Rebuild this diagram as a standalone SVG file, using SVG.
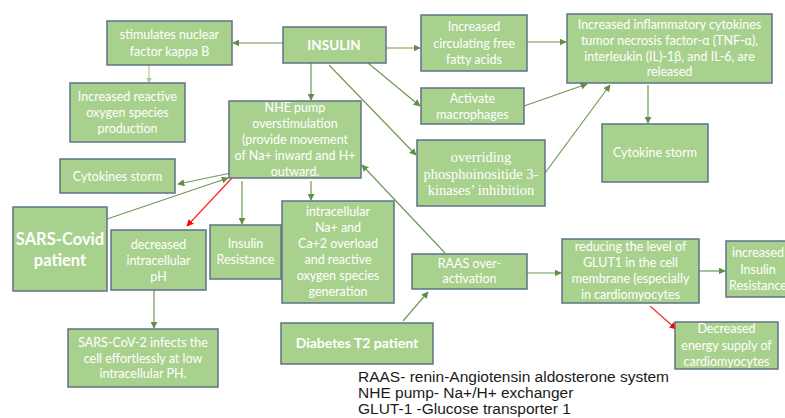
<svg xmlns="http://www.w3.org/2000/svg" width="785" height="418" viewBox="0 0 785 418">
  <defs>
    <marker id="ah" viewBox="0 0 10 10" refX="9" refY="5" markerWidth="7" markerHeight="7" markerUnits="userSpaceOnUse" orient="auto">
      <path d="M0,0 L10,5 L0,10 z" fill="#5f8f45"/>
    </marker>
    <marker id="ahLight" viewBox="0 0 10 10" refX="9" refY="5" markerWidth="6" markerHeight="6" markerUnits="userSpaceOnUse" orient="auto">
      <path d="M0,0 L10,5 L0,10 z" fill="#a9d18e"/>
    </marker>
    <marker id="ahRed" viewBox="0 0 10 10" refX="9" refY="5" markerWidth="7" markerHeight="7" markerUnits="userSpaceOnUse" orient="auto">
      <path d="M0,0 L10,5 L0,10 z" fill="#ff0000"/>
    </marker>
  </defs>
  <style>
    .box { fill: #a9d18e; stroke: #5f7287; stroke-width: 1.5; }
    .t { font-family: Lato, "Open Sans", "Liberation Sans", sans-serif; font-size: 12.5px; fill: #ffffff; text-anchor: middle; }
    .ts { font-family: "Liberation Serif", "DejaVu Serif", serif; font-size: 14.5px; fill: #ffffff; text-anchor: middle; }
    .tb { font-family: Lato, "Open Sans", "Liberation Sans", sans-serif; font-weight: bold; fill: #ffffff; text-anchor: middle; }
    .c { stroke: #6f9a55; stroke-width: 1.2; fill: none; marker-end: url(#ah); }
    .cl { stroke: #a9d18e; stroke-width: 1.2; fill: none; marker-end: url(#ahLight); }
    .cr { stroke: #ff2a2a; stroke-width: 1.2; fill: none; marker-end: url(#ahRed); }
    .legend { font-family: "Liberation Sans", Arial, sans-serif; font-size: 15.5px; fill: #1a1a1a; }
  </style>

  <g id="connectors">
    <line class="c" x1="283" y1="43" x2="233" y2="43"/>
    <line class="cl" x1="149" y1="65" x2="149" y2="83"/>
    <line class="c" x1="311" y1="63" x2="311" y2="100"/>
    <line class="c" x1="386" y1="48" x2="420" y2="48"/>
    <line class="c" x1="368" y1="63" x2="420" y2="106"/>
    <line class="c" x1="329" y1="65" x2="416" y2="155"/>
    <line class="c" x1="527" y1="42" x2="566" y2="42"/>
    <line class="c" x1="524" y1="106" x2="587" y2="84"/>
    <line class="c" x1="545" y1="173" x2="610" y2="85"/>
    <line class="c" x1="648" y1="85" x2="648" y2="123"/>
    <line class="c" x1="231" y1="173" x2="178" y2="184"/>
    <line class="c" x1="107" y1="219" x2="228" y2="178"/>
    <line class="cr" x1="232" y1="178" x2="187" y2="226"/>
    <line class="c" x1="242" y1="181" x2="242" y2="224"/>
    <line class="c" x1="311" y1="181" x2="311" y2="200"/>
    <line class="c" x1="154" y1="290" x2="154" y2="328"/>
    <line class="c" x1="445" y1="253" x2="362" y2="165"/>
    <line class="c" x1="403" y1="321" x2="428" y2="292"/>
    <line class="c" x1="527" y1="273" x2="561" y2="273"/>
    <line class="c" x1="699" y1="271" x2="725" y2="271"/>
    <line class="cr" x1="650" y1="306" x2="676" y2="329"/>
  </g>

  <g id="insulin">
    <rect class="box" x="283" y="27" width="103" height="36"/>
    <text class="tb" x="334" y="50" font-size="13.5">INSULIN</text>
  </g>

  <g id="nfkb">
    <rect class="box" x="107" y="21" width="125" height="44"/>
    <text class="t" x="169.5" y="39">stimulates nuclear</text>
    <text class="t" x="169.5" y="56">factor kappa B</text>
  </g>

  <g id="ros-production">
    <rect class="box" x="70" y="83" width="115" height="59"/>
    <text class="t" x="127.5" y="101">Increased reactive</text>
    <text class="t" x="127.5" y="117">oxygen species</text>
    <text class="t" x="127.5" y="133">production</text>
  </g>

  <g id="nhe-pump">
    <rect class="box" x="229" y="101" width="132" height="77"/>
    <text class="t" x="295" y="112">NHE pump</text>
    <text class="t" x="295" y="128">overstimulation</text>
    <text class="t" x="295" y="144">(provide movement</text>
    <text class="t" x="295" y="160">of Na+ inward and H+</text>
    <text class="t" x="295" y="176">outward.</text>
  </g>

  <g id="cytokines-storm-left">
    <rect class="box" x="60" y="159" width="115" height="34"/>
    <text class="t" x="117.5" y="181">Cytokines storm</text>
  </g>

  <g id="free-fatty-acids">
    <rect class="box" x="421" y="15" width="106" height="56"/>
    <text class="t" x="474" y="31">Increased</text>
    <text class="t" x="474" y="48">circulating free</text>
    <text class="t" x="474" y="64">fatty acids</text>
  </g>

  <g id="inflammatory-cytokines">
    <rect class="box" x="567" y="14" width="205" height="69"/>
    <text class="t" x="669.5" y="29">Increased inflammatory cytokines</text>
    <text class="t" x="669.5" y="45">tumor necrosis factor-α (TNF-α),</text>
    <text class="t" x="669.5" y="61">interleukin (IL)-1β, and IL-6, are</text>
    <text class="t" x="669.5" y="76">released</text>
  </g>

  <g id="macrophages">
    <rect class="box" x="421" y="88" width="103" height="36"/>
    <text class="t" x="472.5" y="103">Activate</text>
    <text class="t" x="472.5" y="119">macrophages</text>
  </g>

  <g id="pi3k-inhibition">
    <rect class="box" x="417" y="140" width="128" height="66"/>
    <text class="ts" x="481" y="162">overriding</text>
    <text class="ts" x="481" y="179">phosphoinositide 3-</text>
    <text class="ts" x="481" y="195">kinases’ inhibition</text>
  </g>

  <g id="cytokine-storm-right">
    <rect class="box" x="602" y="124" width="106" height="58"/>
    <text class="t" x="655" y="157">Cytokine storm</text>
  </g>

  <g id="sars-covid-patient">
    <rect class="box" x="13" y="207" width="94" height="84"/>
    <text class="tb" x="60" y="245" font-size="16.5">SARS-Covid</text>
    <text class="tb" x="60" y="266" font-size="16.5">patient</text>
  </g>

  <g id="decreased-ph">
    <rect class="box" x="111" y="230" width="95" height="60"/>
    <text class="t" x="158.5" y="249">decreased</text>
    <text class="t" x="158.5" y="265">intracellular</text>
    <text class="t" x="158.5" y="281">pH</text>
  </g>

  <g id="insulin-resistance">
    <rect class="box" x="210" y="225" width="71" height="54"/>
    <text class="t" x="245.5" y="248">Insulin</text>
    <text class="t" x="245.5" y="264">Resistance</text>
  </g>

  <g id="na-ca-overload">
    <rect class="box" x="282" y="201" width="112" height="102"/>
    <text class="t" x="338" y="216">intracellular</text>
    <text class="t" x="338" y="232">Na+ and</text>
    <text class="t" x="338" y="248">Ca+2 overload</text>
    <text class="t" x="338" y="264">and reactive</text>
    <text class="t" x="338" y="280">oxygen species</text>
    <text class="t" x="338" y="296">generation</text>
  </g>

  <g id="low-ph-infection">
    <rect class="box" x="68" y="329" width="150" height="58"/>
    <text class="t" x="143" y="347">SARS-CoV-2 infects the</text>
    <text class="t" x="143" y="363">cell effortlessly at low</text>
    <text class="t" x="143" y="378">intracellular PH.</text>
  </g>

  <g id="diabetes-t2-patient">
    <rect class="box" x="281" y="323" width="152" height="41"/>
    <text class="tb" x="357" y="348" font-size="14">Diabetes T2 patient</text>
  </g>

  <g id="raas-overactivation">
    <rect class="box" x="412" y="254" width="115" height="35"/>
    <text class="t" x="469.5" y="268">RAAS over-</text>
    <text class="t" x="469.5" y="283">activation</text>
  </g>

  <g id="glut1-reduction">
    <rect class="box" x="562" y="239" width="137" height="64"/>
    <text class="t" x="630.5" y="251">reducing the level of</text>
    <text class="t" x="630.5" y="267">GLUT1 in the cell</text>
    <text class="t" x="630.5" y="283">membrane  (especially</text>
    <text class="t" x="630.5" y="299">in cardiomyocytes</text>
  </g>

  <g id="increased-insulin-resistance">
    <rect class="box" x="726" y="241" width="64" height="56"/>
    <text class="t" x="758" y="257">increased</text>
    <text class="t" x="758" y="274">Insulin</text>
    <text class="t" x="758" y="290">Resistance</text>
  </g>

  <g id="energy-supply">
    <rect class="box" x="675" y="322" width="103" height="47"/>
    <text class="t" x="726.5" y="333">Decreased</text>
    <text class="t" x="726.5" y="350">energy supply of</text>
    <text class="t" x="726.5" y="366">cardiomyocytes</text>
  </g>

  <g id="legend">
    <text class="legend" x="358" y="382">RAAS- renin-Angiotensin aldosterone system</text>
    <text class="legend" x="358" y="398">NHE pump- Na+/H+ exchanger</text>
    <text class="legend" x="358" y="414">GLUT-1 -Glucose transporter 1</text>
  </g>
</svg>
